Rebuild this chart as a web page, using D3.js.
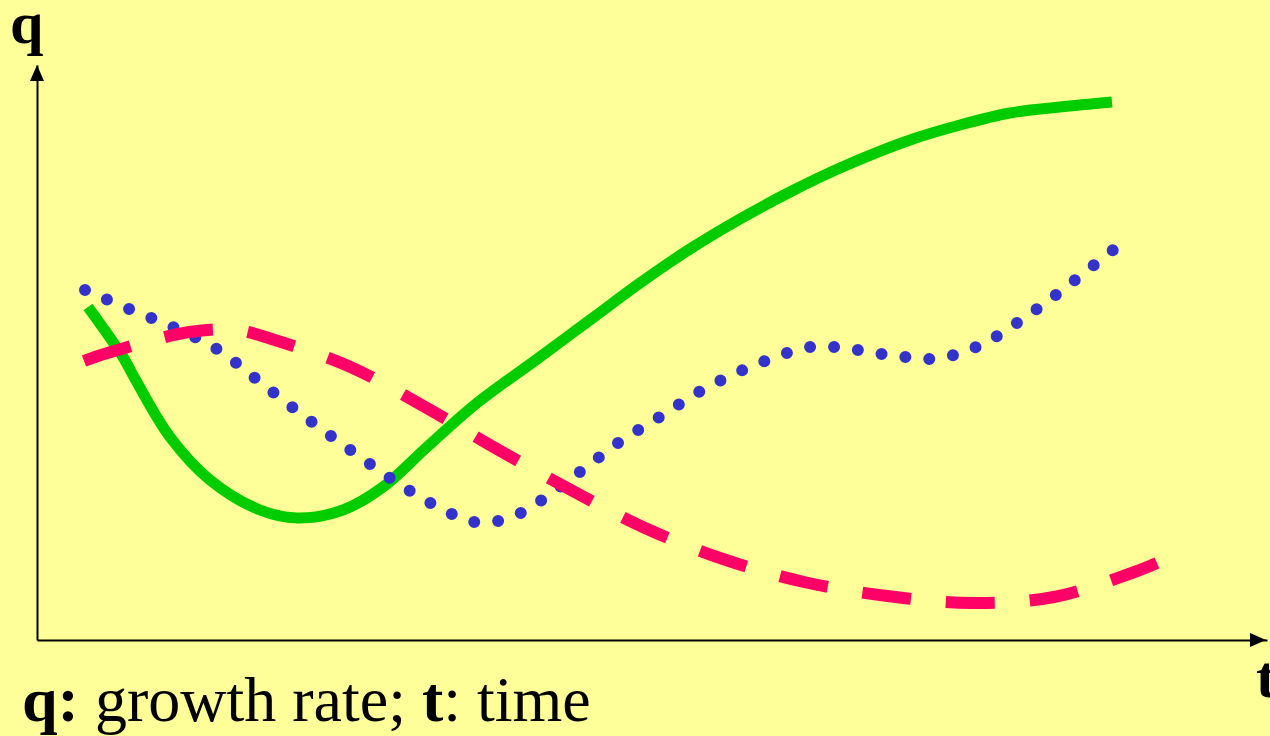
<!DOCTYPE html>
<html>
<head>
<meta charset="utf-8">
<script src="https://cdn.jsdelivr.net/npm/d3@7"></script>
<style>
  html, body { margin: 0; padding: 0; background: #FFFF99; }
  svg { display: block; }
</style>
</head>
<body>
<script>
// ---- data (t: time, q: growth rate) ----
const greenT = [0.51, 0.86, 0.97, 1.33, 1.73, 2.23, 2.60, 3.06, 3.46, 3.90, 4.40, 5.03, 5.53, 6.03, 6.53, 7.03, 7.53, 8.03, 8.73, 9.23, 9.73, 10.23, 10.75];
const greenQ = [3.33, 2.83, 2.63, 2.03, 1.60, 1.30, 1.22, 1.30, 1.53, 1.93, 2.37, 2.83, 3.20, 3.57, 3.91, 4.21, 4.48, 4.72, 5.00, 5.15, 5.27, 5.33, 5.38];

const blueT = [0.48, 0.92, 1.36, 1.80, 2.18, 2.55, 2.94, 3.33, 3.73, 4.15, 4.37, 4.61, 4.84, 5.05, 5.43, 5.81, 6.21, 6.62, 7.06, 7.50, 7.73, 7.98, 8.21, 8.45, 8.69, 8.93, 9.17, 9.39, 9.60, 10.00, 10.38, 10.76];
const blueQ = [3.50, 3.31, 3.13, 2.91, 2.62, 2.33, 2.04, 1.76, 1.49, 1.26, 1.18, 1.19, 1.27, 1.40, 1.68, 1.97, 2.22, 2.48, 2.70, 2.87, 2.93, 2.93, 2.90, 2.86, 2.83, 2.81, 2.85, 2.93, 3.04, 3.31, 3.60, 3.90];

const pinkT = [0.47, 0.705, 1.525, 2.00, 2.345, 3.135, 3.88, 4.60, 5.34, 6.08, 6.86, 7.67, 8.505, 9.34, 10.17, 10.975, 11.20];
const pinkQ = [2.79, 2.87, 3.08, 3.10, 3.01, 2.73, 2.33, 1.91, 1.50, 1.12, 0.81, 0.58, 0.44, 0.37, 0.43, 0.68, 0.77];

const axisMax = { t: 12.3, q: 5.75 };
const labels = { y: "q", x: "t" };
const captionParts = [
  { text: "q:", bold: true },
  { text: " growth rate; ", bold: false },
  { text: "t", bold: true },
  { text: ": time", bold: false }
];

// ---- drawing ----
const W = 1270, H = 736;
const svg = d3.select("body").append("svg").attr("width", W).attr("height", H);
svg.append("rect").attr("width", W).attr("height", H).attr("fill", "#FFFF99");

const x = d3.scaleLinear().domain([0, axisMax.t]).range([37, 1267]);
const y = d3.scaleLinear().domain([0, axisMax.q]).range([640, 65]);

// axes (no ticks) via d3 axis generators
const gx = svg.append("g").attr("transform", `translate(0,${y(0)})`)
  .call(d3.axisBottom(x).tickValues([]).tickSizeOuter(0));
const gy = svg.append("g").attr("transform", `translate(${x(0)},0)`)
  .call(d3.axisLeft(y).tickValues([]).tickSizeOuter(0));
[gx, gy].forEach(g => g.select(".domain").attr("stroke", "#000").attr("stroke-width", 2));

// arrowheads
const xTip = x(axisMax.t) - 1, yTip = y(axisMax.q);
svg.append("path")
  .attr("d", `M${xTip},${y(0)} L${xTip - 16},${y(0) - 7} L${xTip - 16},${y(0) + 7} Z`)
  .attr("fill", "#000");
svg.append("path")
  .attr("d", `M${x(0)},${yTip} L${x(0) - 7},${yTip + 16} L${x(0) + 7},${yTip + 16} Z`)
  .attr("fill", "#000");

const line = d3.line().x(d => x(d[0])).y(d => y(d[1])).curve(d3.curveCatmullRom.alpha(0.5));
const zip = (a, b) => a.map((v, i) => [v, b[i]]);

svg.append("path").datum(zip(greenT, greenQ))
  .attr("d", line).attr("fill", "none")
  .attr("stroke", "#00CC00").attr("stroke-width", 11).attr("stroke-linecap", "butt");

svg.append("path").datum(zip(blueT, blueQ))
  .attr("d", line).attr("fill", "none")
  .attr("stroke", "#3333CC").attr("stroke-width", 12).attr("stroke-linecap", "round")
  .attr("stroke-dasharray", "0 24");

svg.append("path").datum(zip(pinkT, pinkQ))
  .attr("d", line).attr("fill", "none")
  .attr("stroke", "#FF0066").attr("stroke-width", 12).attr("stroke-linecap", "butt")
  .attr("stroke-dasharray", "49 35");

// labels
const serif = "'Liberation Serif', 'Times New Roman', serif";
svg.append("text").attr("x", 10).attr("y", 43)
  .attr("font-family", serif).attr("font-weight", "bold").attr("font-size", 60)
  .attr("fill", "#000").text(labels.y);
svg.append("text").attr("x", 1256).attr("y", 697)
  .attr("font-family", serif).attr("font-weight", "bold").attr("font-size", 60)
  .attr("fill", "#000").text(labels.x);

const cap = svg.append("text").attr("x", 22).attr("y", 721)
  .attr("font-family", serif).attr("font-size", 64).attr("fill", "#000")
  .attr("xml:space", "preserve").style("white-space", "pre");
cap.selectAll("tspan").data(captionParts).enter().append("tspan")
  .attr("font-weight", d => d.bold ? "bold" : "normal")
  .text(d => d.text);
</script>
</body>
</html>
